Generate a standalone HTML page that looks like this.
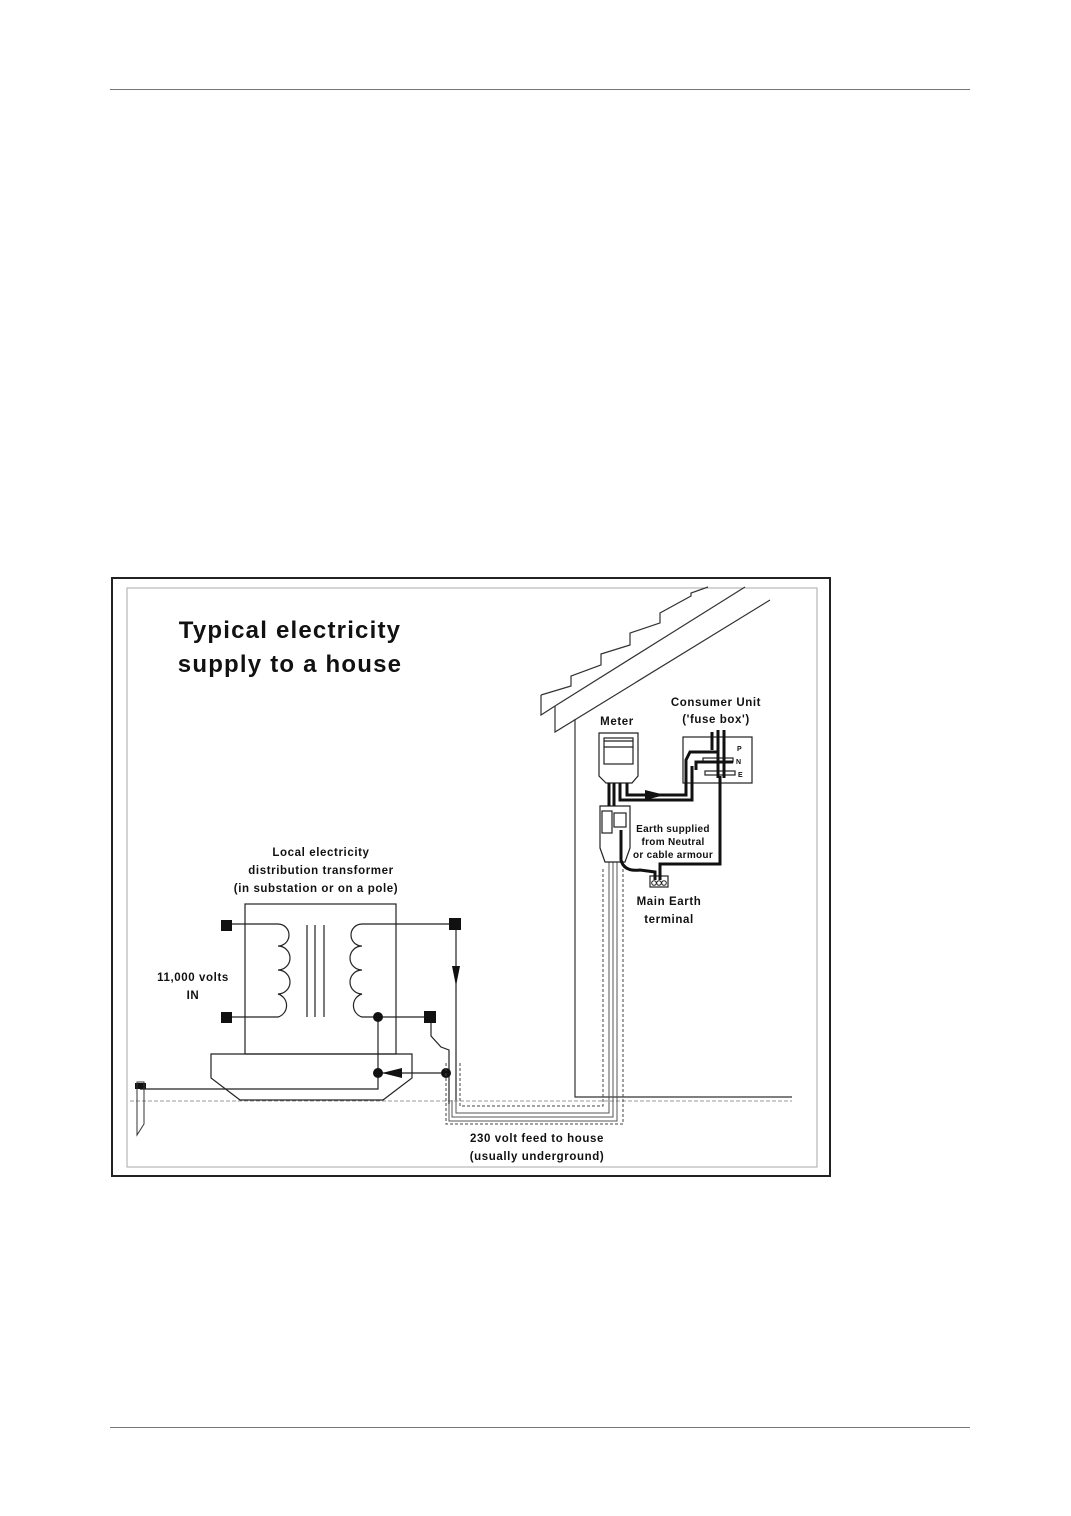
<!DOCTYPE html>
<html><head><meta charset="utf-8"><style>
html,body{margin:0;padding:0;background:#fff}
svg{display:block}
text{font-family:"Liberation Sans",sans-serif;font-weight:bold;fill:#111}
</style></head><body>
<svg width="1071" height="1516" viewBox="0 0 1071 1516" xmlns="http://www.w3.org/2000/svg">
<line x1="110" y1="89.5" x2="970" y2="89.5" stroke="#777" stroke-width="1"/>
<line x1="110" y1="1427.5" x2="970" y2="1427.5" stroke="#777" stroke-width="1"/>
<rect x="112" y="578" width="718" height="598" fill="none" stroke="#222" stroke-width="2"/>
<rect x="127" y="588" width="690" height="579" fill="none" stroke="#aaa" stroke-width="1"/>

<text x="290" y="638" font-size="24" text-anchor="middle" letter-spacing="1.2">Typical electricity</text>
<text x="290" y="672" font-size="24" text-anchor="middle" letter-spacing="1.2">supply to a house</text>

<g fill="none" stroke="#333" stroke-width="1.2">
<!-- roof -->
<path d="M541,695 L571,686 L571,676 L601,665 L601,654 L630,645 L630,633 L660,623 L660,613 L691,596 L691,593 L708,587"/>
<path d="M541,695 L541,715 L555,706 L745,587"/>
<path d="M555,706 L555,732 L770,600"/>
<!-- wall -->
<path d="M575,719 L575,1097 L792,1097"/>
</g>
<!-- ground -->
<line x1="130" y1="1101" x2="792" y2="1101" stroke="#999" stroke-width="1" stroke-dasharray="4,2"/>

<!-- transformer -->
<g fill="none" stroke="#222" stroke-width="1.2">
<rect x="245" y="904" width="151" height="150"/>
<path d="M211,1054 L412,1054 L412,1078 L383,1100 L240,1100 L211,1078 Z"/>
<line x1="307" y1="925" x2="307" y2="1017"/>
<line x1="315" y1="925" x2="315" y2="1017"/>
<line x1="324" y1="925" x2="324" y2="1017"/>
<path d="M231,924 L278,924 A10,10 0 0 1 278,946 A12,12 0 0 1 278,970 A12,12 0 0 1 278,994 A12,12 0 0 1 278,1017 L231,1017"/>
<path d="M455,924 L362,924 A10,10 0 0 0 362,946 A12,12 0 0 0 362,970 A12,12 0 0 0 362,994 A12,12 0 0 0 362,1017 L430,1017"/>
<path d="M378,1017 L378,1073"/>
<path d="M140,1089 L378,1089 L378,1073"/>
<path d="M378,1073 L446,1073"/>
<path d="M456,924 L456,1100"/>
<path d="M431,1017 L431,1036 L441,1047 L449,1050 L449,1104"/>
</g>
<polygon points="456,986 452,966 460,966" fill="#111"/>
<polygon points="382,1073 402,1068 402,1078" fill="#111"/>
<rect x="221" y="920" width="11" height="11" fill="#111"/>
<rect x="221" y="1012" width="11" height="11" fill="#111"/>
<rect x="449" y="918" width="12" height="12" fill="#111"/>
<rect x="424" y="1011" width="12" height="12" fill="#111"/>
<circle cx="378" cy="1017" r="5" fill="#111"/>
<circle cx="378" cy="1073" r="5" fill="#111"/>
<circle cx="446" cy="1073" r="5" fill="#111"/>
<!-- earth rod -->
<rect x="135" y="1083" width="11" height="6" fill="#111"/>
<path d="M137,1082 L137,1135 L144,1124 L144,1082 Z" fill="none" stroke="#333" stroke-width="1"/>

<!-- underground feed -->
<g fill="none" stroke="#555" stroke-width="1">
<path d="M456,1100 L456,1113 L609,1113 L609,862"/>
<path d="M452,1100 L452,1117 L613,1117 L613,862"/>
<path d="M449,1104 L449,1121 L617,1121 L617,862"/>
</g>
<g fill="none" stroke="#444" stroke-width="1" stroke-dasharray="3,2">
<path d="M446,1063 L446,1124 L623,1124 L623,868"/>
<path d="M460,1063 L460,1106 L603,1106 L603,868"/>
</g>

<!-- meter -->
<g fill="none" stroke="#222" stroke-width="1.2">
<path d="M599,733 L638,733 L638,776 L632,783 L606,783 L599,776 Z"/>
<rect x="604" y="738" width="29" height="26"/>
<line x1="604" y1="747" x2="633" y2="747"/>
<line x1="604" y1="741" x2="633" y2="741"/>
<path d="M600,806 L630,806 L630,848 L625,862 L605,862 L600,848 Z"/>
<rect x="602" y="811" width="10" height="22"/>
<rect x="614" y="813" width="12" height="14"/>
<rect x="683" y="737" width="69" height="46"/>
<rect x="703" y="758" width="30" height="4"/>
<rect x="705" y="771" width="30" height="4"/>
<rect x="650" y="876" width="18" height="11"/>
</g>
<g fill="none" stroke="#111" stroke-width="3">
<path d="M609,783 L609,806"/>
<path d="M614,783 L614,806"/>
<path d="M620,783 L620,800 L692,800 L692,766"/>
<path d="M627,783 L627,795 L686,795 L686,760 L690,752 L718,752"/>
<path d="M696,770 L696,762 L733,762"/>
<path d="M621,830 L621,860 Q624,872 640,870 L655,872 L655,880"/>
<path d="M660,880 L660,864 L720,864 L720,776"/>
<path d="M718,730 L718,778"/>
<path d="M724,730 L724,778"/>
<path d="M712,732 L712,750"/>
</g>
<polygon points="665,795 645,790 645,800" fill="#111"/>
<text x="737" y="751" font-size="7">P</text>
<text x="736" y="764" font-size="7">N</text>
<text x="738" y="777" font-size="7">E</text>
<circle cx="654" cy="883" r="2.3" fill="none" stroke="#222"/>
<circle cx="659" cy="883" r="2.3" fill="none" stroke="#222"/>
<circle cx="664" cy="883" r="2.3" fill="none" stroke="#222"/>

<text x="617" y="725" font-size="11.5" text-anchor="middle" letter-spacing="0.6">Meter</text>
<text x="716" y="706" font-size="11.5" text-anchor="middle" letter-spacing="0.6">Consumer Unit</text>
<text x="716" y="723" font-size="11.5" text-anchor="middle" letter-spacing="0.6">('fuse box')</text>
<text x="673" y="832" font-size="10" text-anchor="middle" letter-spacing="0.3">Earth supplied</text>
<text x="673" y="845" font-size="10" text-anchor="middle" letter-spacing="0.3">from Neutral</text>
<text x="673" y="858" font-size="10" text-anchor="middle" letter-spacing="0.3">or cable armour</text>
<text x="669" y="905" font-size="11.5" text-anchor="middle" letter-spacing="0.6">Main Earth</text>
<text x="669" y="923" font-size="11.5" text-anchor="middle" letter-spacing="0.6">terminal</text>
<text x="321" y="856" font-size="11.5" text-anchor="middle" letter-spacing="0.6">Local electricity</text>
<text x="321" y="874" font-size="11.5" text-anchor="middle" letter-spacing="0.6">distribution transformer</text>
<text x="316" y="892" font-size="11.5" text-anchor="middle" letter-spacing="0.6">(in substation or on a pole)</text>
<text x="193" y="981" font-size="11.5" text-anchor="middle" letter-spacing="0.6">11,000 volts</text>
<text x="193" y="999" font-size="11.5" text-anchor="middle" letter-spacing="0.6">IN</text>
<text x="537" y="1142" font-size="11.5" text-anchor="middle" letter-spacing="0.6">230 volt feed to house</text>
<text x="537" y="1160" font-size="11.5" text-anchor="middle" letter-spacing="0.6">(usually underground)</text>
</svg>
</body></html>
